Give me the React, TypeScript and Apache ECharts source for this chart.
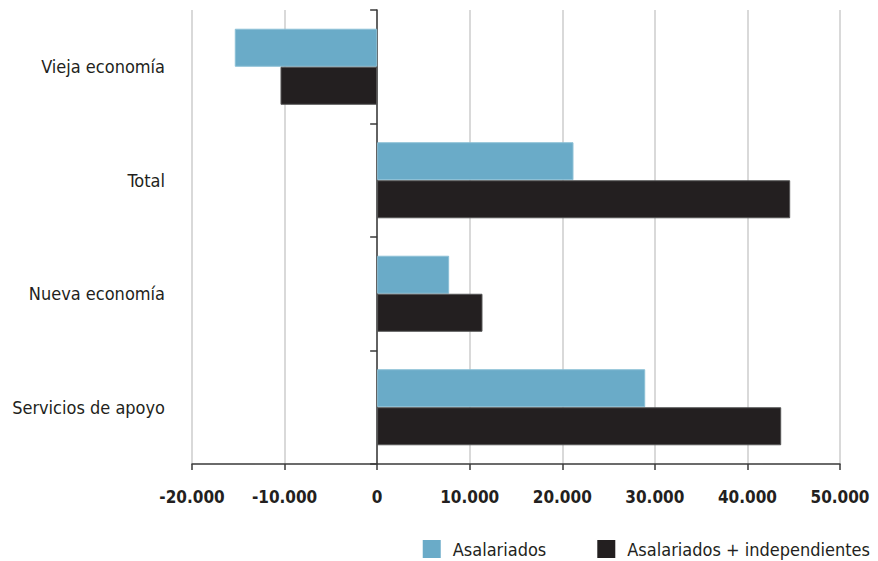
import React, { useEffect, useRef } from "react";
import * as echarts from "echarts";

// Categories, top to bottom
const categories = ["Vieja economía", "Total", "Nueva economía", "Servicios de apoyo"];

// Series values
const asalariados = [-15380, 21210, 7780, 28960];
const asalariadosIndependientes = [-10440, 44620, 11380, 43650];

// X axis ticks
const xTicks = [-20000, -10000, 0, 10000, 20000, 30000, 40000, 50000];

const seriesNames = ["Asalariados", "Asalariados + independientes"];
const FONT = "'DejaVu Sans Condensed', 'Liberation Sans', sans-serif";
const INK = "#231f20";

const formatThousands = (v: number) => {
  const s = Math.abs(v).toString().replace(/\B(?=(\d{3})+(?!\d))/g, ".");
  return (v < 0 ? "-" : "") + s;
};

export default function App() {
  const ref = useRef<HTMLDivElement>(null);

  useEffect(() => {
    if (!ref.current) return;
    const chart = echarts.init(ref.current, null, { renderer: "svg" });
    chart.setOption({
      animation: false,
      backgroundColor: "#ffffff",
      grid: {
        left: 192,
        right: 38,
        top: 10,
        bottom: 97,
        containLabel: false,
        outerBoundsMode: "none",
      },
      legend: {
        data: seriesNames,
        right: 8,
        top: 540,
        padding: 0,
        itemWidth: 18,
        itemHeight: 18,
        itemGap: 51,
        icon: "rect",
        itemStyle: { borderWidth: 0 },
        textStyle: {
          fontFamily: FONT,
          fontSize: 18,
          color: INK,
          padding: [0, 0, 0, 7],
        },
      },
      xAxis: {
        type: "value",
        min: xTicks[0],
        max: xTicks[xTicks.length - 1],
        interval: xTicks[1] - xTicks[0],
        axisLine: { show: true, onZero: false, lineStyle: { color: "#3a3a3a", width: 1.5 } },
        axisTick: { show: true, length: 6, lineStyle: { color: "#3a3a3a", width: 1.5 } },
        splitLine: { show: true, lineStyle: { color: "#d9d9d9", width: 2 } },
        axisLabel: {
          margin: 24,
          fontFamily: FONT,
          fontSize: 17,
          fontWeight: "bold",
          color: INK,
          formatter: (v: number) => formatThousands(v),
        },
      },
      yAxis: {
        type: "category",
        data: categories,
        inverse: true,
        axisLine: { show: true, onZero: true, lineStyle: { color: "#3a3a3a", width: 1.5 } },
        axisTick: { show: true, length: 7, lineStyle: { color: "#3a3a3a", width: 1.5 } },
        axisLabel: {
          margin: 27,
          fontFamily: FONT,
          fontSize: 18,
          color: INK,
          padding: [6, 0, 0, 0],
        },
      },
      series: [
        {
          name: seriesNames[0],
          type: "bar",
          data: asalariados,
          barGap: "0%",
          barCategoryGap: "33%",
          itemStyle: { color: "#6aabc8", borderColor: "#8cc0d6", borderWidth: 1 },
        },
        {
          name: seriesNames[1],
          type: "bar",
          data: asalariadosIndependientes,
          barGap: "0%",
          barCategoryGap: "33%",
          itemStyle: { color: INK, borderColor: "#555555", borderWidth: 1 },
        },
      ],
    });
    return () => chart.dispose();
  }, []);

  return (
    <div
      ref={ref}
      style={{ position: "fixed", left: 0, top: 0, width: 878, height: 561 }}
    />
  );
}
